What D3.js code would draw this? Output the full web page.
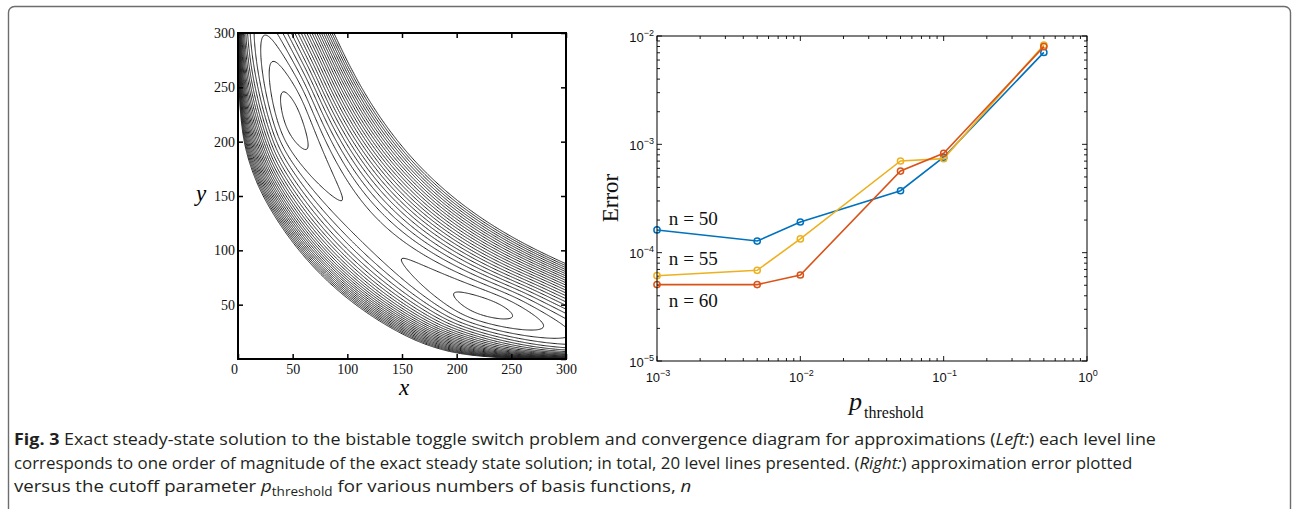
<!DOCTYPE html>
<html>
<head>
  <script src="https://d3js.org/d3.v7.min.js"></script>
  <style>
    body { margin: 0; background: #fff; }
    .serif { font-family: "Liberation Serif", "DejaVu Serif", serif; }
    .sans { font-family: "Liberation Sans", Arial, sans-serif; }
  </style>
</head>
<body>
<svg id="fig" width="1294" height="509"></svg>
<script>
// ---- right panel: error vs cutoff
const pThreshold = [1e-3, 5e-3, 1e-2, 5e-2, 1e-1, 5e-1];
const errN50 = [1.62e-4, 1.28e-4, 1.92e-4, 3.73e-4, 7.6e-4, 7.06e-3];
const errN55 = [6.13e-5, 6.87e-5, 1.34e-4, 7.02e-4, 7.38e-4, 8.26e-3];
const errN60 = [5.07e-5, 5.07e-5, 6.22e-5, 5.67e-4, 8.26e-4, 7.98e-3];
const seriesNames = ['n = 50', 'n = 55', 'n = 60'];
const seriesColors = ['#0072BD', '#EDB120', '#D95319'];
const labelErr = [1.8e-4, 7.7e-5, 3.15e-5];   // where the n= labels sit
const labelP = 1.21e-3;

// ---- left panel: level lines of log10 p(x,y)
const levelLines = [-4, -5, -6, -7, -8, -9, -10, -11, -12, -13, -14, -15, -16, -17, -18, -19, -20, -21, -22, -23, -24, -25, -26, -27];
const axisTicks = [0, 50, 100, 150, 200, 250, 300];
const wellCentres = [-0.76, 0.79];   // along-band position of the two modes
const bandShift = 100;                // (x+s)(y+s) = const along the band
const ridgeLog = 10.78;
const peakLog = -3.555;
const barrier = [2.23, 0.3];          // height, rounding of the wells
const acrossCoef = [115.6, 1.977];
const edgePile = [12, 3];             // crowding of lines at the axes

const svg = d3.select('#fig');

// outer frame of the figure
svg.append('rect')
  .attr('x', 8.5).attr('y', 6.5).attr('width', 1282).attr('height', 600).attr('rx', 6)
  .attr('fill', 'none').attr('stroke', '#6d6d6d').attr('stroke-width', 1.4);

// ================= left panel =================
const L = { x0: 238, x1: 566, y0: 33, y1: 359 };
const lx = d3.scaleLinear().domain([0, 300]).range([L.x0, L.x1]);
const ly = d3.scaleLinear().domain([0, 300]).range([L.y1, L.y0]);

function logDensity(x, y) {
  const u = Math.log((x + bandShift) * (y + bandShift)) - ridgeLog;
  const w = Math.log((x + bandShift) / (y + bandShift));
  const mid = (wellCentres[0] + wellCentres[1]) / 2;
  const half = (wellCentres[1] - wellCentres[0]) / 2;
  const q = ((w - mid) / half) ** 2 - 1;
  const along = barrier[0] * (Math.sqrt(q * q + barrier[1] ** 2) - barrier[1]);
  const across = acrossCoef[0] * Math.abs(u) ** acrossCoef[1];
  const edge = edgePile[0] * (Math.exp(-x / edgePile[1]) + Math.exp(-y / edgePile[1]));
  return peakLog - along - across - edge;
}

const n = 301, step = 1;
const values = new Array(n * n);
for (let j = 0; j < n; j++) {
  for (let i = 0; i < n; i++) {
    values[i + j * n] = logDensity(i * step, 300 - j * step);
  }
}
const contours = d3.contours().size([n, n]).thresholds(levelLines)(values);
const proj = d3.geoTransform({
  point(px, py) { this.stream.point(lx((px - 0.5) * step), ly(300 - (py - 0.5) * step)); }
});
const cpath = d3.geoPath(proj);

svg.append('clipPath').attr('id', 'lclip')
  .append('rect').attr('x', L.x0).attr('y', L.y0).attr('width', L.x1 - L.x0).attr('height', L.y1 - L.y0);

svg.append('g').attr('clip-path', 'url(#lclip)')
  .selectAll('path')
  .data(contours)
  .enter()
  .append('path')
  .attr('d', cpath)
  .attr('fill', 'none')
  .attr('stroke', '#222')
  .attr('stroke-width', 1);

// axes
const lb = svg.append('g').attr('transform', `translate(0,${L.y1})`)
  .call(d3.axisBottom(lx).tickValues(axisTicks).tickSizeInner(-5).tickSizeOuter(0).tickPadding(5));
const ll = svg.append('g').attr('transform', `translate(${L.x0},0)`)
  .call(d3.axisLeft(ly).tickValues(axisTicks.slice(1)).tickSizeInner(-5).tickSizeOuter(0).tickPadding(3));
svg.append('g').attr('transform', `translate(0,${L.y0})`)
  .call(d3.axisTop(lx).tickValues(axisTicks).tickSizeInner(-5).tickSizeOuter(0).tickFormat(''));
svg.append('g').attr('transform', `translate(${L.x1},0)`)
  .call(d3.axisRight(ly).tickValues(axisTicks).tickSizeInner(-5).tickSizeOuter(0).tickFormat(''));
svg.selectAll('.domain').remove();
svg.selectAll('.tick line').attr('stroke', '#000').attr('stroke-width', 1.5);
[lb, ll].forEach(g => g.selectAll('text')
  .attr('font-family', '"Liberation Serif", serif').attr('font-size', 14).attr('fill', '#111'));
lb.selectAll('text').filter(d => d === 0).attr('dx', -4);

svg.append('rect')
  .attr('x', L.x0).attr('y', L.y0).attr('width', L.x1 - L.x0).attr('height', L.y1 - L.y0)
  .attr('fill', 'none').attr('stroke', '#000').attr('stroke-width', 2);

svg.append('text').attr('class', 'serif').attr('x', 404).attr('y', 395)
  .attr('text-anchor', 'middle').attr('font-size', 23).attr('font-style', 'italic').text('x');
svg.append('text').attr('class', 'serif').attr('x', 201).attr('y', 201)
  .attr('text-anchor', 'middle').attr('font-size', 23).attr('font-style', 'italic').text('y');

// ================= right panel =================
const R = { x0: 657, x1: 1087, y0: 36, y1: 361 };
const rx = d3.scaleLog().domain([1e-3, 1]).range([R.x0, R.x1]);
const ry = d3.scaleLog().domain([1e-5, 1e-2]).range([R.y1, R.y0]);
const isMajor = t => Math.abs(Math.log10(t) - Math.round(Math.log10(t))) < 1e-9;

const tk = svg.append('g').attr('stroke', '#000').attr('stroke-width', 0.9);
rx.ticks().forEach(t => {
  const len = isMajor(t) ? 5 : 3, x = rx(t);
  tk.append('line').attr('x1', x).attr('x2', x).attr('y1', R.y1).attr('y2', R.y1 - len);
  tk.append('line').attr('x1', x).attr('x2', x).attr('y1', R.y0).attr('y2', R.y0 + len);
});
ry.ticks().forEach(t => {
  const len = isMajor(t) ? 5 : 3, y = ry(t);
  tk.append('line').attr('y1', y).attr('y2', y).attr('x1', R.x0).attr('x2', R.x0 + len);
  tk.append('line').attr('y1', y).attr('y2', y).attr('x1', R.x1).attr('x2', R.x1 - len);
});

function powLabel(g, x, y, t, anchor) {
  const e = Math.round(Math.log10(t));
  const txt = g.append('text').attr('class', 'sans').attr('x', x).attr('y', y)
    .attr('text-anchor', anchor).attr('font-size', 13).attr('fill', '#111');
  txt.append('tspan').text('10');
  txt.append('tspan').attr('font-size', 9).attr('dy', -6).text(e < 0 ? '\u2212' + (-e) : String(e));
}
const lab = svg.append('g');
rx.ticks().filter(isMajor).forEach(t => powLabel(lab, rx(t) + 1, 382, t, 'middle'));
ry.ticks().filter(isMajor).forEach(t => powLabel(lab, R.x0 - 3, ry(t) + 5.5, t, 'end'));

const line = d3.line().x(d => rx(d[0])).y(d => ry(d[1]));
[errN50, errN55, errN60].forEach((errs, k) => {
  const pts = pThreshold.map((p, i) => [p, errs[i]]);
  const g = svg.append('g');
  g.append('path').attr('d', line(pts)).attr('fill', 'none')
    .attr('stroke', seriesColors[k]).attr('stroke-width', 1.6);
  g.selectAll('circle').data(pts).enter().append('circle')
    .attr('cx', d => rx(d[0])).attr('cy', d => ry(d[1])).attr('r', 3.1)
    .attr('fill', 'none').attr('stroke', seriesColors[k]).attr('stroke-width', 1.5);
  svg.append('text').attr('class', 'serif').attr('x', rx(labelP)).attr('y', ry(labelErr[k]))
    .attr('font-size', 18).attr('textLength', 49).attr('lengthAdjust', 'spacingAndGlyphs')
    .attr('fill', '#111').text(seriesNames[k]);
});

svg.append('rect')
  .attr('x', R.x0).attr('y', R.y0).attr('width', R.x1 - R.x0).attr('height', R.y1 - R.y0)
  .attr('fill', 'none').attr('stroke', '#000').attr('stroke-width', 1);

svg.append('text').attr('class', 'serif')
  .attr('transform', 'translate(618,198) rotate(-90)')
  .attr('text-anchor', 'middle').attr('font-size', 23).attr('fill', '#111').text('Error');
const xl = svg.append('text').attr('class', 'serif').attr('x', 849).attr('y', 410).attr('fill', '#111');
xl.append('tspan').attr('font-size', 26).attr('font-style', 'italic').text('p');
xl.append('tspan').attr('font-size', 16).attr('dy', 8).attr('dx', 2).text('threshold');

// ================= caption =================
const capLines = [
  { y: 445, width: 1143, parts: [['Fig. 3', 'b'], [' Exact steady-state solution to the bistable toggle switch problem and convergence diagram for approximations (', ''], ['Left:', 'i'], [') each level line', '']] },
  { y: 469, width: 1119, parts: [['corresponds to one order of magnitude of the exact steady state solution; in total, 20 level lines presented. (', ''], ['Right:', 'i'], [') approximation error plotted', '']] },
  { y: 492, width: 678, parts: [['versus the cutoff parameter ', ''], ['p', 'i'], ['threshold', 's'], [' for various numbers of basis functions, ', ''], ['n', 'i']] }
];
capLines.forEach(c => {
  const t = svg.append('text').attr('x', 0).attr('y', 0)
    .attr('font-family', '"Open Sans", "Noto Sans", sans-serif').attr('font-size', 16.5).attr('fill', '#231f20');
  c.parts.forEach(([s, f]) => {
    const sp = t.append('tspan').text(s);
    if (f === 'b') sp.attr('font-weight', 'bold');
    if (f === 'i') sp.attr('font-style', 'italic');
    if (f === 's') sp.attr('font-size', 12).attr('dy', 4);
  });
  t.selectAll('tspan').filter((d, i) => i > 0 && c.parts[i - 1][1] === 's').attr('dy', -4);
  const w = t.node().getBBox().width;
  t.attr('transform', `translate(14,${c.y}) scale(${c.width / w},1)`);
});
</script>
</body>
</html>
